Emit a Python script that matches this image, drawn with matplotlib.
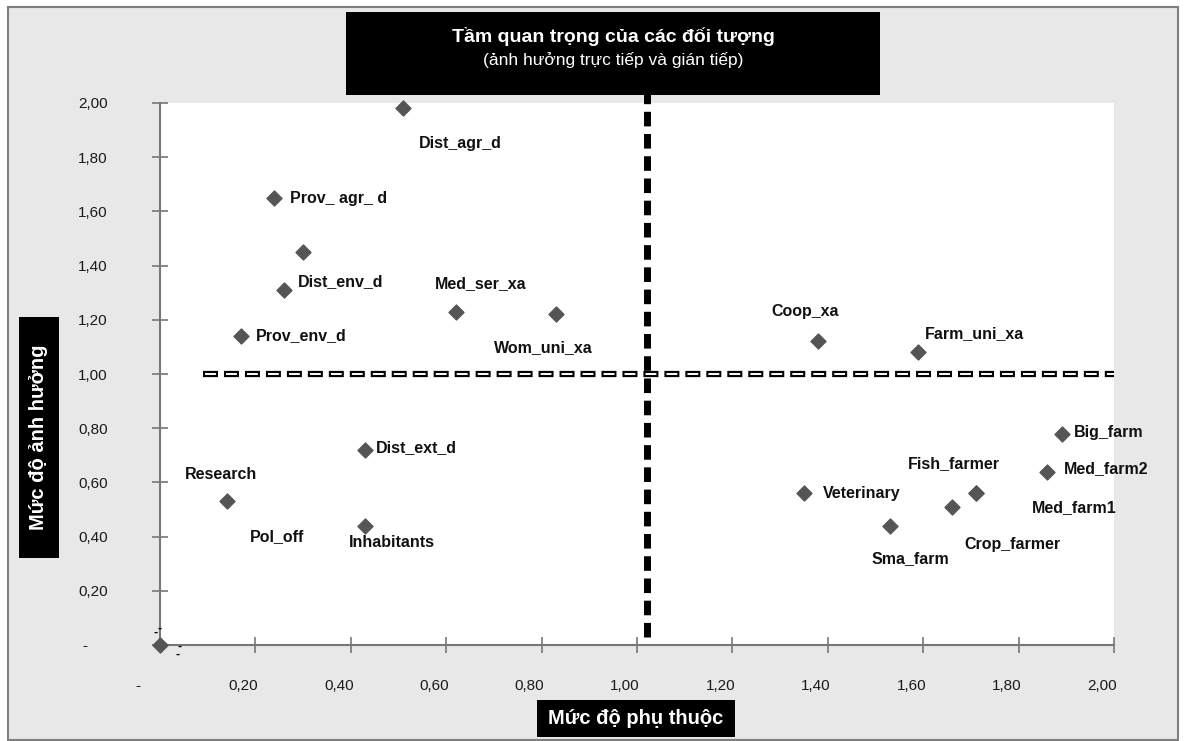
import matplotlib
matplotlib.use('Agg')
import matplotlib.pyplot as plt
import matplotlib.transforms as mtransforms
from matplotlib.patches import Rectangle

plt.rcParams['font.family'] = ['Liberation Sans', 'DejaVu Sans']
plt.rcParams['lines.scale_dashes'] = False

# data
names = ['Dist_agr_d', 'Prov_ agr_ d', '', 'Dist_env_d', 'Prov_env_d',
         'Med_ser_xa', 'Wom_uni_xa', 'Coop_xa', 'Farm_uni_xa', 'Big_farm',
         'Med_farm2', 'Fish_farmer', 'Med_farm1', 'Crop_farmer', 'Veterinary',
         'Sma_farm', 'Dist_ext_d', 'Research', 'Inhabitants', 'Pol_off']
dependence = [0.51, 0.24, 0.30, 0.26, 0.17,
              0.62, 0.83, 1.38, 1.59, 1.89,
              1.86, 1.71, 1.71, 1.66, 1.35,
              1.53, 0.43, 0.14, 0.43, 0.00]
influence = [1.98, 1.65, 1.45, 1.31, 1.14,
             1.23, 1.22, 1.12, 1.08, 0.78,
             0.64, 0.56, 0.56, 0.51, 0.56,
             0.44, 0.72, 0.53, 0.44, 0.00]
ticks = [0, 0.2, 0.4, 0.6, 0.8, 1.0, 1.2, 1.4, 1.6, 1.8, 2.0]
tick_labels = ['-', '0,20', '0,40', '0,60', '0,80', '1,00',
               '1,20', '1,40', '1,60', '1,80', '2,00']
x_split = 1.02
y_split = 1.00

# label offsets in pixels (dx right, dy down) and alignment
label_pos = {
    'Dist_agr_d': (57, 35, 'center'), 'Prov_ agr_ d': (16, 1, 'left'),
    'Dist_env_d': (14, -8, 'left'), 'Prov_env_d': (15, 0, 'left'),
    'Med_ser_xa': (25, -28, 'center'), 'Wom_uni_xa': (-13, 33, 'center'),
    'Coop_xa': (-13, -30, 'center'), 'Farm_uni_xa': (56, -19, 'center'),
    'Big_farm': (12, -1, 'left'), 'Med_farm2': (17, -3, 'left'),
    'Fish_farmer': (-22, -30, 'center'), 'Med_farm1': (99, 14, 'center'),
    'Crop_farmer': (61, 38, 'center'), 'Veterinary': (19, 0, 'left'),
    'Sma_farm': (21, 33, 'center'), 'Dist_ext_d': (11, -2, 'left'),
    'Research': (-6, -27, 'center'), 'Inhabitants': (27, 17, 'center'),
    'Pol_off': (117, -108, 'center'),
}

W, H = 1185, 741
fig = plt.figure(figsize=(W / 100, H / 100), dpi=100)
fig.patch.set_facecolor('white')

def fbox(x0, y0, x1, y1, **kw):
    r = Rectangle((x0 / W, 1 - y1 / H), (x1 - x0) / W, (y1 - y0) / H,
                  transform=fig.transFigure, **kw)
    fig.add_artist(r)
    return r

# outer grey panel with frame
fbox(8, 7, 1178, 740, facecolor='#e8e8e8', edgecolor='#7f7f7f', lw=1.5, zorder=0)

ax = fig.add_axes([160 / W, 1 - 645 / H, 954 / W, 542 / H])
ax.set_facecolor('white')
ax.set_xlim(0, 2)
ax.set_ylim(0, 2)
for s in ['top', 'right']:
    ax.spines[s].set_visible(False)
for s in ['left', 'bottom']:
    ax.spines[s].set_color('#777777')
    ax.spines[s].set_linewidth(1.5)

ax.set_xticks(ticks)
ax.set_xticklabels(tick_labels)
ax.set_yticks(ticks)
ax.set_yticklabels(tick_labels)
ax.tick_params(axis='both', direction='inout', length=11.5, width=1.2,
               color='#777777', labelsize=11, labelcolor='#1a1a1a')
ax.tick_params(axis='y', pad=32)
ax.tick_params(axis='x', pad=19)

# shift labels as in the original (accounting style)
for i, lab in enumerate(ax.get_xticklabels()):
    dx = -22 if i == 0 else -12
    lab.set_transform(lab.get_transform() +
                      mtransforms.ScaledTranslation(dx / 100, 0, fig.dpi_scale_trans))
for i, lab in enumerate(ax.get_yticklabels()):
    if i == 0:
        lab.set_transform(lab.get_transform() +
                          mtransforms.ScaledTranslation(-20 / 100, 0, fig.dpi_scale_trans))

# quadrant dividers
ax.plot([0.09, 2.0], [y_split, y_split], color='black', lw=4.5,
        linestyle=(0, (10.8, 4.3)), solid_capstyle='butt', zorder=2, clip_on=False)
ax.plot([0.09, 2.0], [y_split, y_split], color='white', lw=1.4,
        linestyle=(-1.5, (7.8, 7.3)), solid_capstyle='butt', zorder=2, clip_on=False)
ax.plot([x_split, x_split], [0.03, 2.04], color='black', lw=5,
        linestyle=(0, (10.5, 5.5)), zorder=2, clip_on=False)

ax.scatter(dependence, influence, marker='D', s=58, color='#555555',
           edgecolors='#555555', zorder=4, clip_on=False)

for name, x, y in zip(names, dependence, influence):
    if not name:
        continue
    dx, dy, ha = label_pos[name]
    ax.annotate(name, (x, y), xytext=(dx * 0.72, -dy * 0.72),
                textcoords='offset points', ha=ha, va='center',
                fontsize=11.5, fontweight='bold', color='#111111', zorder=5)

# stray zero labels around the origin
for dx, dy in [(0, -16), (-4, -12), (20, 2), (18, 10)]:
    ax.annotate('-', (0, 0), xytext=(dx * 0.72, -dy * 0.72),
                textcoords='offset points', ha='center', va='center',
                fontsize=9, fontweight='bold', color='black', annotation_clip=False)

# title box
fbox(346, 12, 880, 95, facecolor='black', edgecolor='none', zorder=6)
fig.text(613 / W, 1 - 36 / H, 'Tầm quan trọng của các đối tượng', color='white',
         fontsize=14, fontweight='bold', ha='center', va='center', zorder=7)
fig.text(613 / W, 1 - 60 / H, '(ảnh hưởng trực tiếp và gián tiếp)', color='white',
         fontsize=12.5, ha='center', va='center', zorder=7)

# axis title boxes
fbox(19, 317, 59, 558, facecolor='black', edgecolor='none', zorder=6)
fig.text(39 / W, 1 - 437 / H, 'Mức độ ảnh hưởng', color='white', rotation=90,
         fontsize=14.5, fontweight='bold', ha='center', va='center', zorder=7)
fbox(537, 700, 735, 737, facecolor='black', edgecolor='none', zorder=6)
fig.text(636 / W, 1 - 718 / H, 'Mức độ phụ thuộc', color='white',
         fontsize=14.5, fontweight='bold', ha='center', va='center', zorder=7)

fig.savefig('out.png', dpi=100, facecolor=fig.get_facecolor())
